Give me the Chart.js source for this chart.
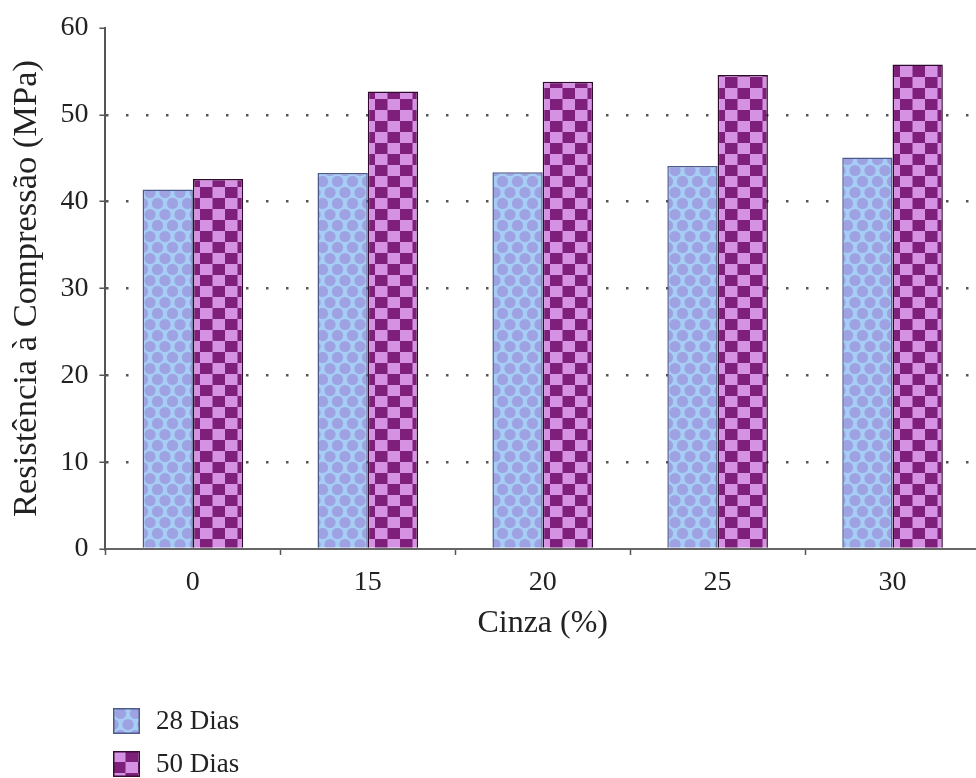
<!DOCTYPE html>
<html>
<head>
    <script src="https://cdn.jsdelivr.net/npm/chart.js"></script>
    <style>
        body {
            margin: 0;
            background: #ffffff;
            overflow: hidden;
            font-family: 'Liberation Serif';
        }
        .chart-container {
            position: absolute;
            left: 0;
            top: 0;
            width: 984px;
            height: 653px;
        }
        .legend {
            position: absolute;
            left: 113px;
            top: 699px;
            font-family: 'Liberation Serif';
            font-size: 27px;
            color: #222;
        }
        .legend-item {
            display: flex;
            align-items: center;
            height: 43px;
        }
        .legend-item canvas {
            width: 27px;
            height: 26px;
            margin-right: 16px;
        }
    </style>
</head>
<body>

    <div class="chart-container">
        <canvas id="cinzaChart"></canvas>
    </div>
    <div class="legend" id="legend"></div>

    <script>
        const categories = ['0', '15', '20', '25', '30'];
        const seriesNames = ['28 Dias', '50 Dias'];
        const dias28 = [41.4, 43.3, 43.4, 44.1, 45.1];
        const dias50 = [42.6, 52.7, 53.8, 54.6, 55.8];
        const yTicks = [0, 10, 20, 30, 40, 50, 60];

        // little tiles used as bar fills
        function dotsTile() {
            const c = document.createElement('canvas');
            c.width = 15; c.height = 22;
            const g = c.getContext('2d');
            g.fillStyle = '#a6cdf3';
            g.fillRect(0, 0, 15, 22);
            g.fillStyle = '#9ea2e2';
            [[7.5, 5.5], [0, 16.5], [15, 16.5], [7.5, 27.5], [7.5, -5.5], [0, -5.5], [15, -5.5]].forEach(function (p) {
                g.beginPath();
                g.arc(p[0], p[1], 5.6, 0, Math.PI * 2);
                g.fill();
            });
            return c;
        }

        function checkerTile() {
            const c = document.createElement('canvas');
            c.width = 25; c.height = 22;
            const g = c.getContext('2d');
            g.fillStyle = '#d592e2';
            g.fillRect(0, 0, 25, 22);
            g.fillStyle = '#7e1f7b';
            g.fillRect(12.5, 0, 12.5, 11);
            g.fillRect(0, 11, 12.5, 11);
            return c;
        }

        const canvas = document.getElementById('cinzaChart');
        const ctx = canvas.getContext('2d');
        const fill28 = ctx.createPattern(dotsTile(), 'repeat');
        const fill50 = ctx.createPattern(checkerTile(), 'repeat');

        // html legend, two rows stacked like the original
        const legend = document.getElementById('legend');
        [[seriesNames[0], dotsTile(), '#4d5b8c'], [seriesNames[1], checkerTile(), '#3a0c35']].forEach(function (it) {
            const row = document.createElement('div');
            row.className = 'legend-item';
            const sw = document.createElement('canvas');
            sw.width = 27; sw.height = 26;
            const g = sw.getContext('2d');
            g.fillStyle = g.createPattern(it[1], 'repeat');
            g.fillRect(0, 0, 27, 26);
            g.strokeStyle = it[2];
            g.lineWidth = 1.5;
            g.strokeRect(0.75, 0.75, 25.5, 24.5);
            const tx = document.createElement('span');
            tx.textContent = it[0];
            row.appendChild(sw);
            row.appendChild(tx);
            legend.appendChild(row);
        });

        new Chart(ctx, {
            type: 'bar',
            data: {
                labels: categories,
                datasets: [
                    {
                        label: seriesNames[0],
                        data: dias28,
                        backgroundColor: fill28,
                        borderColor: '#4d5b8c',
                        borderWidth: 1.5,
                        barPercentage: 1,
                        categoryPercentage: 0.575
                    },
                    {
                        label: seriesNames[1],
                        data: dias50,
                        backgroundColor: fill50,
                        borderColor: '#300a2c',
                        borderWidth: 1.5,
                        barPercentage: 1,
                        categoryPercentage: 0.575
                    }
                ]
            },
            options: {
                responsive: true,
                maintainAspectRatio: false,
                animation: false,
                layout: {
                    padding: { left: 6, right: 4, top: 28, bottom: 10 }
                },
                plugins: {
                    legend: { display: false },
                    tooltip: { enabled: false }
                },
                scales: {
                    x: {
                        ticks: {
                            font: { family: 'Liberation Serif', size: 28 },
                            color: '#222',
                            padding: 11
                        },
                        grid: {
                            drawOnChartArea: false,
                            drawTicks: true,
                            tickLength: 6,
                            tickColor: '#555',
                            tickWidth: 1.5
                        },
                        border: { color: '#666', width: 2 },
                        title: {
                            display: true,
                            text: 'Cinza (%)',
                            font: { family: 'Liberation Serif', size: 32 },
                            color: '#222',
                            padding: { top: -6, bottom: 0 }
                        }
                    },
                    y: {
                        min: 0,
                        max: 60,
                        afterBuildTicks: function (axis) {
                            axis.ticks = yTicks.map(function (v) { return { value: v }; });
                        },
                        ticks: {
                            font: { family: 'Liberation Serif', size: 28 },
                            color: '#222',
                            padding: 11
                        },
                        grid: {
                            color: function (c) {
                                const v = c.tick ? c.tick.value : 0;
                                return (v === 0 || v === 60) ? 'rgba(0,0,0,0)' : '#555';
                            },
                            lineWidth: 2.5,
                            tickLength: 6,
                            tickColor: '#555',
                            tickWidth: 1.5
                        },
                        border: { color: '#555', width: 2, dash: [2.5, 17.5] },
                        title: {
                            display: true,
                            text: 'Resistência à Compressão (MPa)',
                            font: { family: 'Liberation Serif', size: 34.5 },
                            color: '#222',
                            padding: { top: 0, bottom: 2 }
                        }
                    }
                }
            }
        });
    </script>
</body>
</html>
